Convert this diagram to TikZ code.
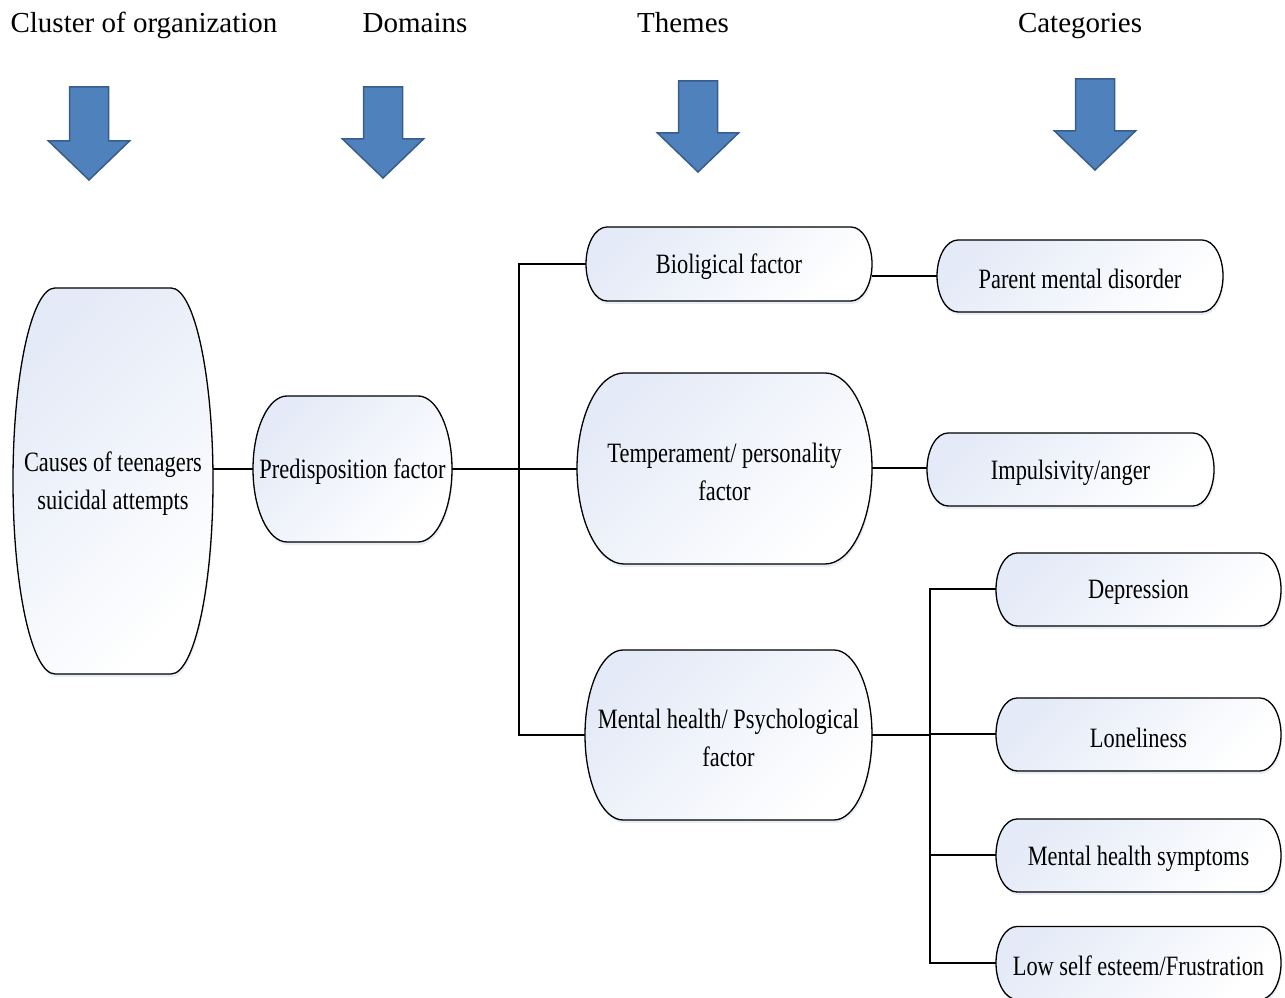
\documentclass[tikz,border=0pt]{standalone}
\usepackage{fontspec}
\setmainfont{Liberation Serif}
\newfontfamily\condfont[FakeStretch=0.8]{Liberation Serif}
\definecolor{nodeA}{RGB}{228,234,247}
\definecolor{arrowfill}{RGB}{79,129,189}
\definecolor{arrowdraw}{RGB}{56,93,138}
\definecolor{shadowc}{RGB}{210,220,238}
\tikzset{
  capfill/.style={draw=black, line width=1.3pt, top color=nodeA, bottom color=white, shading angle=45},
  capshadow/.style={fill=shadowc, opacity=0.5},
  capbox/.style={inner sep=0pt, outer sep=0pt},
  captext/.style={inner sep=0pt, outer sep=0pt, align=center, font=\condfont\fontsize{28}{38}\selectfont},
  header/.style={anchor=base, font=\fontsize{29}{34}\selectfont},
  blockarrow/.style={fill=arrowfill, draw=arrowdraw, line width=1.5pt, line join=miter},
  conn/.style={draw=black, line width=2pt}
}
% #1 name, #2 x centre, #3 y centre (from top), #4 width, #5 height, #6 end radius, #7 text
\newcommand\capsule[7]{%
  \path[capshadow] (#2-#4/2+#6+1, 998-#3+#5/2-3) -- (#2+#4/2-#6+1, 998-#3+#5/2-3)
     arc[start angle=90, end angle=-90, x radius=#6, y radius=#5/2]
     -- (#2-#4/2+#6+1, 998-#3-#5/2-3)
     arc[start angle=270, end angle=90, x radius=#6, y radius=#5/2] -- cycle;
  \path[capfill] (#2-#4/2+#6, 998-#3+#5/2) -- (#2+#4/2-#6, 998-#3+#5/2)
     arc[start angle=90, end angle=-90, x radius=#6, y radius=#5/2]
     -- (#2-#4/2+#6, 998-#3-#5/2)
     arc[start angle=270, end angle=90, x radius=#6, y radius=#5/2] -- cycle;
  \node[capbox, minimum width=#4, minimum height=#5] (#1) at (#2, 998-#3) {};
  \node[captext] (#1-text) at (#2, 998-#3-3) {#7};
}
% #1 centre x, #2 top y, #3 tip y (from top)
\newcommand\blockdown[3]{%
  \path[blockarrow] (#1-19.5, 998-#2) -- (#1+19.5, 998-#2) -- (#1+19.5, 998-#3+39)
    -- (#1+40.5, 998-#3+39) -- (#1, 998-#3) -- (#1-40.5, 998-#3+39)
    -- (#1-19.5, 998-#3+39) -- cycle;
}
\begin{document}
\begin{tikzpicture}[x=1pt, y=1pt]
\useasboundingbox (0,0) rectangle (1285,998);
\begin{scope}
\clip (0,0) rectangle (1285,998);
% headers
\node[header] (h1) at (144, 998-33) {Cluster of organization};
\node[header] (h2) at (415, 998-33) {Domains};
\node[header] (h3) at (683, 998-33) {Themes};
\node[header] (h4) at (1080, 998-33) {Categories};
% block arrows
\blockdown{89}{87}{180}
\blockdown{383}{87}{178}
\blockdown{698}{81}{172}
\blockdown{1095}{79}{170}
% nodes
\capsule{causes}{113}{481}{200}{386}{42}{Causes of teenagers\\suicidal attempts}
\capsule{pre}{352.5}{469}{199}{146}{34}{Predisposition factor}
\capsule{bio}{729}{264}{286}{74}{21}{Bioligical factor}
\capsule{temp}{724.5}{468.5}{295}{191}{47}{Temperament/ personality\\factor}
\capsule{mh}{728.5}{735}{287}{170}{38}{Mental health/ Psychological\\factor}
\capsule{par}{1080}{276}{286}{72}{21}{Parent mental disorder}
\capsule{imp}{1070.5}{469.5}{287}{73}{21}{Impulsivity/anger}
\capsule{dep}{1138.5}{589.5}{285}{73}{21}{Depression}
\capsule{lone}{1138.5}{734.5}{285}{73}{21}{Loneliness}
\capsule{sym}{1138.5}{855.5}{285}{73}{21}{Mental health symptoms}
\capsule{low}{1138.5}{963}{285}{73}{21}{Low self esteem/Frustration}
% connectors
\coordinate (b1) at (519, 998-469);
\coordinate (b2) at (930, 998-735);
\draw[conn] (pre.west) -- (pre.west -| causes.east);
\draw[conn] (pre.east) -- (pre.east -| temp.west);
\draw[conn] (bio.west) -| (b1) |- (mh.west);
\draw[conn] (par.west) -- (par.west -| bio.east);
\draw[conn] (temp.east) -- (temp.east -| imp.west);
\draw[conn] (mh.east) -- (b2);
\draw[conn] (dep.west) -| (b2) |- (low.west);
\draw[conn] (lone.west) -- (lone.west -| b2);
\draw[conn] (sym.west) -- (sym.west -| b2);
\end{scope}
\end{tikzpicture}
\end{document}
